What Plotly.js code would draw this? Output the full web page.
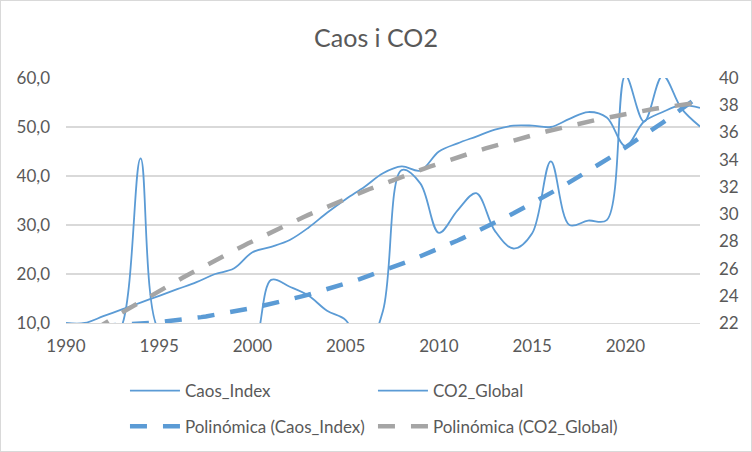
<!DOCTYPE html>
<html><head><meta charset="utf-8">
<script src="https://cdn.plot.ly/plotly-3.0.1.min.js"></script>
<style>
html,body{margin:0;padding:0;background:#fff}
#chart{width:752px;height:452px;box-sizing:border-box;border:1px solid #d9d9d9}
</style></head>
<body><div id="chart"></div>
<script>
const years = [1990,1991,1992,1993,1994,1995,1996,1997,1998,1999,2000,2001,2002,2003,2004,2005,2006,2007,2008,2009,2010,2011,2012,2013,2014,2015,2016,2017,2018,2019,2020,2021,2022,2023,2024];
const caosIndex = [5,5,4,9.5,43.6,8.5,8,8,8,7,5,18.8,17.4,15.6,12.5,10.6,4,12.5,41.2,38.5,28.4,33.0,36.5,28.8,25.2,28.3,43.0,30.0,30.9,31.0,60.5,51.1,60.5,53.8,50.1];
const co2Global = [22.0,22.0,22.5,23.0,23.5,24.0,24.5,25.0,25.6,26.0,27.2,27.6,28.1,29.0,30.1,31.1,32.0,33.0,33.5,33.2,34.6,35.2,35.7,36.2,36.5,36.5,36.4,37.0,37.5,37.1,35.0,36.8,37.5,38.0,37.8];
const seriesNames = ['Caos_Index','CO2_Global','Polinómica (Caos_Index)','Polinómica (CO2_Global)'];
const chartTitle = 'Caos i CO2';
const xTickVals = [1990,1995,2000,2005,2010,2015,2020];
const leftTickVals = [10,20,30,40,50,60];
const rightTickVals = [22,24,26,28,30,32,34,36,38,40];
const trendOrder = 2;

function polyfit(xs, ys, order) {
  const n = order + 1;
  const A = Array.from({length:n}, () => new Array(n + 1).fill(0));
  for (let i = 0; i < xs.length; i++) {
    for (let r = 0; r < n; r++) {
      for (let c = 0; c < n; c++) A[r][c] += Math.pow(xs[i], r + c);
      A[r][n] += ys[i] * Math.pow(xs[i], r);
    }
  }
  for (let p = 0; p < n; p++) {
    let best = p;
    for (let r = p + 1; r < n; r++) if (Math.abs(A[r][p]) > Math.abs(A[best][p])) best = r;
    [A[p], A[best]] = [A[best], A[p]];
    for (let r = 0; r < n; r++) {
      if (r === p) continue;
      const f = A[r][p] / A[p][p];
      for (let c = p; c <= n; c++) A[r][c] -= f * A[p][c];
    }
  }
  return A.map((row, i) => row[n] / row[i]);
}
function polyval(coef, x) { return coef.reduce((s, c, i) => s + c * Math.pow(x, i), 0); }

const base = years[0];
const tx = years.map(y => y - base);
const cCaos = polyfit(tx, caosIndex, trendOrder);
const cCo2 = polyfit(tx, co2Global, trendOrder);
const trendX = [];
for (let x = years[0]; x <= years[years.length - 1] + 1e-9; x += 0.25) trendX.push(x);
const trendCaos = trendX.map(x => polyval(cCaos, x - base));
const trendCo2 = trendX.map(x => polyval(cCo2, x - base));

const blue = '#5B9BD5', gray = '#A5A5A5', txt = '#595959', grid = '#D9D9D9';
const FONT = 'Lato, "Open Sans", sans-serif';

const traces = [
  {x: years, y: caosIndex, name: seriesNames[0], type: 'scatter', mode: 'lines',
   line: {color: blue, width: 1.8, shape: 'spline', smoothing: 1}, legend: 'legend'},
  {x: years, y: co2Global, name: seriesNames[1], type: 'scatter', mode: 'lines', yaxis: 'y2',
   line: {color: blue, width: 1.8, shape: 'spline', smoothing: 1}, legend: 'legend'},
  {x: trendX, y: trendCaos, name: seriesNames[2], type: 'scatter', mode: 'lines',
   line: {color: blue, width: 4.5, dash: '17px,16px'}, legend: 'legend2'},
  {x: trendX, y: trendCo2, name: seriesNames[3], type: 'scatter', mode: 'lines', yaxis: 'y2',
   line: {color: gray, width: 4.5, dash: '17px,16px'}, legend: 'legend2'}
];

const legendCommon = {orientation: 'h', xanchor: 'left', yanchor: 'middle', x: 0.093,
  yref: 'container',
  font: {family: FONT, size: 17, color: txt}, itemwidth: 50, entrywidth: 183,
  bgcolor: 'rgba(0,0,0,0)', borderwidth: 0, traceorder: 'normal'};

const layout = {
  width: 750, height: 450,
  margin: {l: 65, r: 51, t: 77, b: 128, autoexpand: false},
  paper_bgcolor: '#fff', plot_bgcolor: '#fff',
  separators: ',.',
  showlegend: true,
  title: {text: chartTitle, font: {family: FONT, size: 25, color: txt},
          x: 0.5, xref: 'container', y: 0.918, yref: 'container', yanchor: 'middle', xanchor: 'center'},
  xaxis: {range: [1990, 2024], tickvals: xTickVals, ticks: '', showgrid: false, zeroline: false,
          showline: true, linecolor: grid, linewidth: 1, automargin: false,
          tickfont: {family: FONT, size: 17, color: txt}, ticklabelstandoff: 8},
  yaxis: {range: [10, 60], tickvals: leftTickVals, tickformat: '.1f', ticks: '', automargin: false,
          showgrid: true, gridcolor: grid, gridwidth: 1.3, zeroline: false, showline: false,
          tickfont: {family: FONT, size: 17, color: txt}, ticklabelstandoff: 15},
  yaxis2: {range: [22, 40], tickvals: rightTickVals, overlaying: 'y', side: 'right', ticks: '', automargin: false,
           showgrid: false, zeroline: false, showline: false,
           tickfont: {family: FONT, size: 17, color: txt}, ticklabelstandoff: 18},
  legend: Object.assign({}, legendCommon, {y: 0.133}),
  legend2: Object.assign({}, legendCommon, {y: 0.054})
};

Plotly.newPlot('chart', traces, layout, {displayModeBar: false, staticPlot: true});
</script>
</body></html>
